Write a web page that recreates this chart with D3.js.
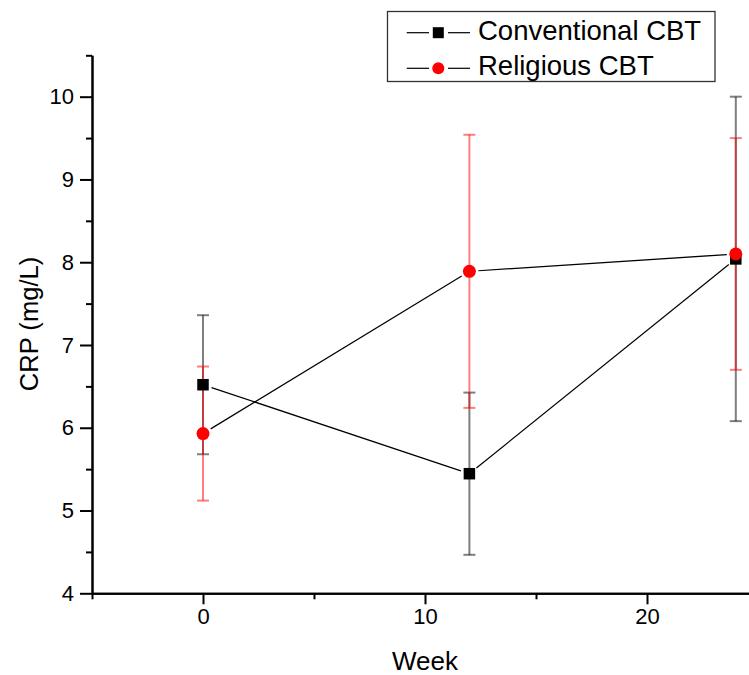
<!DOCTYPE html>
<html>
<head>
<meta charset="utf-8">
<script src="https://cdn.jsdelivr.net/npm/d3@7"></script>
<style>
  html, body { margin: 0; padding: 0; background: #fff; }
  svg { display: block; font-family: "Liberation Sans", Arial, sans-serif; }
</style>
</head>
<body>
<svg id="chart" width="749" height="675"></svg>
<script>
// ---- data ----
const weeks = [0, 12, 24];
const convMean = [6.52, 5.445, 8.04];
const convSD = [0.84, 0.98, 1.96];
const relMean = [5.93, 7.89, 8.10];
const relSD = [0.81, 1.65, 1.40];
const seriesNames = ["Conventional CBT", "Religious CBT"];
const xMajorTicks = [0, 10, 20];
const xMinorTicks = [-5, 5, 15, 25];
const yMajorTicks = [4, 5, 6, 7, 8, 9, 10];
const yMinorTicks = [4.5, 5.5, 6.5, 7.5, 8.5, 9.5, 10.5];

const svg = d3.select("#chart");
const x = d3.scaleLinear().domain([-5, 25]).range([92, 758]);
const y = d3.scaleLinear().domain([4, 10.5]).range([593.3, 55.3]);

// ---- axes ----
const gx = svg.append("g").attr("transform", `translate(0,${y(4)})`);
gx.call(d3.axisBottom(x).tickValues(xMajorTicks).tickSize(11).tickSizeOuter(0).tickPadding(4).tickFormat(d3.format("d")));
const gxm = svg.append("g").attr("transform", `translate(0,${y(4)})`);
gxm.call(d3.axisBottom(x).tickValues(xMinorTicks).tickSize(6).tickSizeOuter(0).tickFormat(""));

const gy = svg.append("g").attr("transform", `translate(${x(-5)},0)`);
gy.call(d3.axisLeft(y).tickValues(yMajorTicks).tickSize(12).tickSizeOuter(0).tickPadding(6).tickFormat(d3.format("d")));
const gym = svg.append("g").attr("transform", `translate(${x(-5)},0)`);
gym.call(d3.axisLeft(y).tickValues(yMinorTicks).tickSize(6).tickSizeOuter(0).tickFormat(""));

svg.selectAll(".domain").attr("stroke", "#000").attr("stroke-width", 2);
svg.selectAll(".tick line").attr("stroke", "#000").attr("stroke-width", 2);
svg.selectAll(".tick text").attr("font-size", 22).attr("fill", "#000")
   .attr("font-family", "Liberation Sans, Arial, sans-serif");

// axis titles
svg.append("text").attr("x", x(10)).attr("y", 670)
   .attr("text-anchor", "middle").attr("font-size", 26).text("Week");
svg.append("text").attr("transform", `translate(38,${324}) rotate(-90)`)
   .attr("text-anchor", "middle").attr("font-size", 25.6).text("CRP (mg/L)");

// ---- data series ----
const conv = weeks.map((w, i) => ({w, m: convMean[i], sd: convSD[i]}));
const rel = weeks.map((w, i) => ({w, m: relMean[i], sd: relSD[i]}));

function drawLines(data, gap) {
  for (let i = 0; i < data.length - 1; i++) {
    const x1 = x(data[i].w), y1 = y(data[i].m), x2 = x(data[i+1].w), y2 = y(data[i+1].m);
    const len = Math.hypot(x2 - x1, y2 - y1);
    const ux = (x2 - x1) / len, uy = (y2 - y1) / len;
    svg.append("line")
      .attr("x1", x1 + ux * gap).attr("y1", y1 + uy * gap)
      .attr("x2", x2 - ux * gap).attr("y2", y2 - uy * gap)
      .attr("stroke", "#000").attr("stroke-width", 1.2);
  }
}
drawLines(conv, 9);
drawLines(rel, 9);

function drawErr(data, color) {
  const g = svg.append("g").attr("stroke", color).attr("stroke-opacity", 0.5).attr("stroke-width", 2);
  data.forEach(d => {
    const cx = x(d.w), top = y(d.m + d.sd), bot = y(d.m - d.sd);
    g.append("line").attr("x1", cx).attr("x2", cx).attr("y1", top).attr("y2", bot);
    g.append("line").attr("x1", cx - 6).attr("x2", cx + 6).attr("y1", top).attr("y2", top);
    g.append("line").attr("x1", cx - 6).attr("x2", cx + 6).attr("y1", bot).attr("y2", bot);
  });
}
drawErr(conv, "#000");
drawErr(rel, "#ff0000");

const sq = 11.5, cr = 6.5;
svg.append("g").selectAll("rect").data(conv).join("rect")
  .attr("x", d => x(d.w) - sq / 2).attr("y", d => y(d.m) - sq / 2)
  .attr("width", sq).attr("height", sq).attr("fill", "#000");
svg.append("g").selectAll("circle").data(rel).join("circle")
  .attr("cx", d => x(d.w)).attr("cy", d => y(d.m)).attr("r", cr).attr("fill", "#ff0000");

// ---- legend ----
const lg = svg.append("g");
lg.append("rect").attr("x", 387.5).attr("y", 11.5).attr("width", 327.5).attr("height", 70)
  .attr("fill", "#fff").attr("stroke", "#333").attr("stroke-width", 1.3);
const rowsY = [32.7, 68.3];
seriesNames.forEach((name, i) => {
  const yy = rowsY[i];
  lg.append("line").attr("x1", 406.7).attr("x2", 429).attr("y1", yy).attr("y2", yy).attr("stroke", "#000").attr("stroke-width", 1.2);
  lg.append("line").attr("x1", 448).attr("x2", 470).attr("y1", yy).attr("y2", yy).attr("stroke", "#000").attr("stroke-width", 1.2);
  if (i === 0) {
    lg.append("rect").attr("x", 438.3 - 5.5).attr("y", yy - 5.5).attr("width", 11).attr("height", 11).attr("fill", "#000");
  } else {
    lg.append("circle").attr("cx", 438.3).attr("cy", yy).attr("r", 6).attr("fill", "#ff0000");
  }
  lg.append("text").attr("x", 478).attr("y", yy + 7.5 + (i === 0 ? -0.7 : -1))
    .attr("font-size", 27.5).attr("fill", "#000").text(name);
});
</script>
</body>
</html>
